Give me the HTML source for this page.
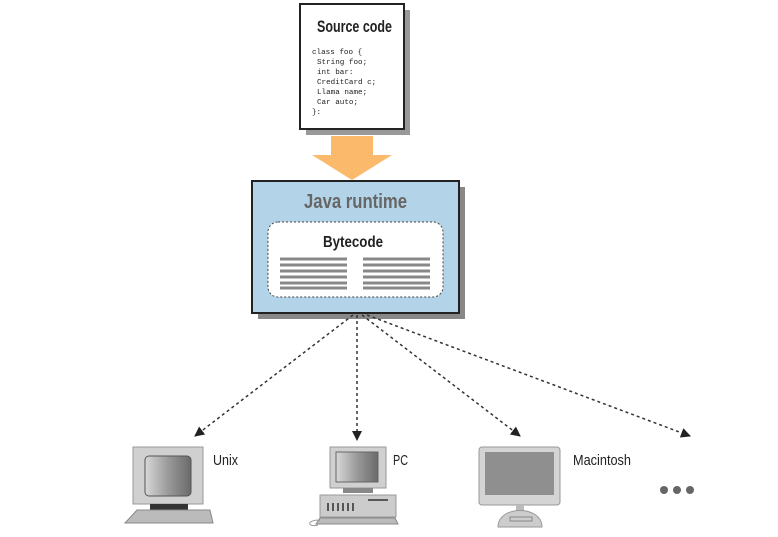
<!DOCTYPE html>
<html><head><style>
html,body{margin:0;padding:0;background:#fff;}
svg{display:block;}
text{font-family:"Liberation Sans",sans-serif;}
.m{font-family:"Liberation Mono",monospace;font-size:7.6px;fill:#222;}
</style></head><body>
<svg width="778" height="537" viewBox="0 0 778 537" xmlns="http://www.w3.org/2000/svg">
<defs>
<marker id="ah" markerWidth="10" markerHeight="10" refX="9" refY="5" orient="auto" markerUnits="userSpaceOnUse">
<path d="M0,0 L10,5 L0,10 z" fill="#222"/>
</marker>
<linearGradient id="scr" x1="0" x2="1"><stop offset="0" stop-color="#d8d8d8"/><stop offset="0.5" stop-color="#9a9a9a"/><stop offset="1" stop-color="#6a6a6a"/></linearGradient>
</defs>
<rect x="306" y="10" width="104" height="125" fill="#999"/>
<rect x="300" y="4" width="104" height="125" fill="#fff" stroke="#222" stroke-width="2"/>
<text x="317" y="32" font-size="17" font-weight="bold" fill="#222" textLength="75" lengthAdjust="spacingAndGlyphs">Source code</text>
<text x="312" y="54" class="m">class foo {</text>
<text x="317" y="64" class="m">String foo;</text>
<text x="317" y="74" class="m">int bar:</text>
<text x="317" y="84" class="m">CreditCard c;</text>
<text x="317" y="94" class="m">Llama name;</text>
<text x="317" y="104" class="m">Car auto;</text>
<text x="312" y="114" class="m">}:</text>
<path d="M331,136 L373,136 L373,155 L392,155 L352,180 L312,155 L331,155 z" fill="#fbb96b"/>
<rect x="258" y="187" width="207" height="132" fill="#888"/>
<rect x="252" y="181" width="207" height="132" fill="#b3d4e8" stroke="#222" stroke-width="2"/>
<text x="304" y="208" font-size="20" font-weight="bold" fill="#666" textLength="103" lengthAdjust="spacingAndGlyphs">Java runtime</text>
<rect x="268" y="222" width="175" height="75" rx="10" fill="#fff" stroke="#444" stroke-dasharray="2,2"/>
<text x="323" y="247" font-size="16" font-weight="bold" fill="#222" textLength="60" lengthAdjust="spacingAndGlyphs">Bytecode</text>
<g stroke="#888" stroke-width="3">
<line x1="280" y1="259" x2="347" y2="259"/><line x1="280" y1="265" x2="347" y2="265"/><line x1="280" y1="271" x2="347" y2="271"/><line x1="280" y1="277" x2="347" y2="277"/><line x1="280" y1="283" x2="347" y2="283"/><line x1="280" y1="288" x2="347" y2="288"/>
<line x1="363" y1="259" x2="430" y2="259"/><line x1="363" y1="265" x2="430" y2="265"/><line x1="363" y1="271" x2="430" y2="271"/><line x1="363" y1="277" x2="430" y2="277"/><line x1="363" y1="283" x2="430" y2="283"/><line x1="363" y1="288" x2="430" y2="288"/>
</g>
<g stroke="#333" stroke-width="1.5" stroke-dasharray="3,3" fill="none" marker-end="url(#ah)">
<line x1="353" y1="315" x2="195" y2="436"/>
<line x1="357" y1="315" x2="357" y2="440"/>
<line x1="362" y1="315" x2="520" y2="436"/>
<line x1="367" y1="315" x2="690" y2="436"/>
</g>
<rect x="133" y="447" width="70" height="57" fill="#d0d0d0" stroke="#999"/>
<rect x="145" y="456" width="46" height="40" rx="4" fill="url(#scr)" stroke="#555"/>
<rect x="150" y="504" width="38" height="6" fill="#333"/>
<path d="M125,523 L137,510 L210,510 L213,523 z" fill="#bbb" stroke="#888"/>
<text x="213" y="465" font-size="15" fill="#222" textLength="25" lengthAdjust="spacingAndGlyphs">Unix</text>
<rect x="330" y="447" width="56" height="41" fill="#d0d0d0" stroke="#999"/>
<rect x="336" y="452" width="42" height="30" fill="url(#scr)" stroke="#666"/>
<rect x="343" y="488" width="30" height="5" fill="#888"/>
<rect x="320" y="495" width="76" height="22" fill="#ccc" stroke="#999"/>
<g fill="#555"><rect x="327" y="503" width="2" height="8"/><rect x="332" y="503" width="2" height="8"/><rect x="337" y="503" width="2" height="8"/><rect x="342" y="503" width="2" height="8"/><rect x="347" y="503" width="2" height="8"/><rect x="352" y="503" width="2" height="8"/></g>
<line x1="368" y1="500" x2="388" y2="500" stroke="#333" stroke-width="1.5"/>
<path d="M316,524 L320,518 L395,518 L398,524 z" fill="#bbb" stroke="#888"/>
<path d="M320,520 C305,520 308,528 318,525" stroke="#999" fill="none"/>
<text x="393" y="465" font-size="15" fill="#222" textLength="15" lengthAdjust="spacingAndGlyphs">PC</text>
<rect x="479" y="447" width="81" height="58" rx="3" fill="#d4d4d4" stroke="#999"/>
<rect x="485" y="452" width="69" height="43" fill="#8f8f8f"/>
<rect x="516" y="505" width="8" height="6" fill="#bbb"/>
<path d="M498,527 C498,505 542,505 542,527 z" fill="#ccc" stroke="#999"/>
<rect x="510" y="517" width="22" height="4" fill="none" stroke="#888"/>
<text x="573" y="465" font-size="15" fill="#222" textLength="58" lengthAdjust="spacingAndGlyphs">Macintosh</text>
<circle cx="664" cy="490" r="4" fill="#666"/>
<circle cx="677" cy="490" r="4" fill="#666"/>
<circle cx="690" cy="490" r="4" fill="#666"/>
</svg>
</body></html>
